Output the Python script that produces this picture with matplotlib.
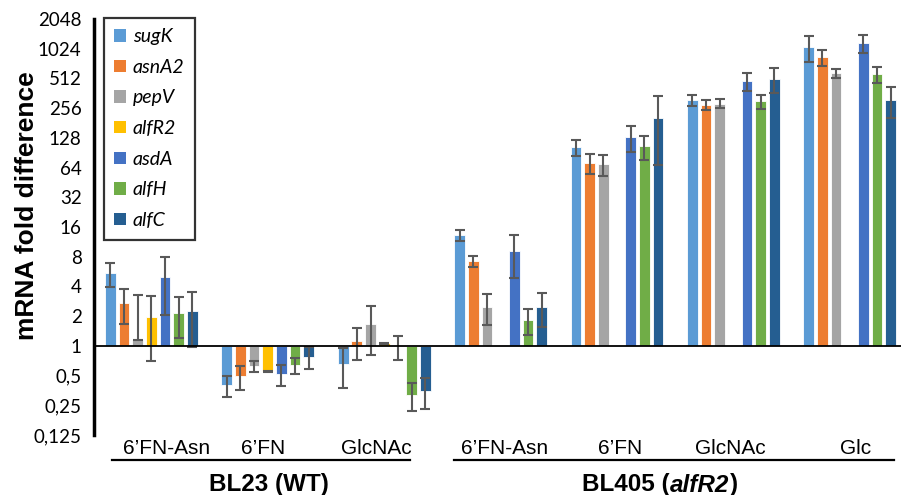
import numpy as np
import matplotlib
matplotlib.use("Agg")
import matplotlib.pyplot as plt
from matplotlib.patches import Patch
from matplotlib.transforms import blended_transform_factory

# ---- data ----
categories = ["6\u2019FN-Asn", "6\u2019FN", "GlcNAc", "6\u2019FN-Asn", "6\u2019FN", "GlcNAc", "Glc"]
genes = ["sugK", "asnA2", "pepV", "alfR2", "asdA", "alfH", "alfC"]
nan = np.nan
sugK = [5.42, 0.40, 0.66, 13.3, 103, 307, 1058]
asnA2 = [2.73, 0.49, 1.11, 7.2, 71.5, 277, 838]
pepV = [1.15, 0.62, 1.66, 2.47, 69, 284, 576]
alfR2 = [1.96, 0.55, 1.06, nan, nan, nan, nan]
asdA = [4.97, 0.52, 0.99, 9.06, 131, 485, 1168]
alfH = [2.15, 0.64, 0.32, 1.83, 105, 302, 564]
alfC = [2.25, 0.78, 0.35, 2.48, 203, 505, 309]

sugK_err = [1.45, 0.10, 0.29, 1.7, 20, 38, 310]
asnA2_err = [1.06, 0.135, 0.39, 0.85, 16, 33, 158]
pepV_err = [2.1, 0.075, 0.86, 0.85, 16, 30, 63]
alfR2_err = [1.25, 0.005, 0.01, nan, nan, nan, nan]
asdA_err = [2.9, 0.125, 0.27, 4.2, 38, 100, 240]
alfH_err = [0.95, 0.12, 0.10, 0.53, 28, 49, 108]
alfC_err = [1.28, 0.20, 0.12, 0.94, 135, 143, 107]

ytick_vals = [0.125, 0.25, 0.5, 1, 2, 4, 8, 16, 32, 64, 128, 256, 512, 1024, 2048]
ytick_labels = ["0,125", "0,25", "0,5", "1", "2", "4", "8", "16", "32", "64", "128", "256", "512", "1024", "2048"]

values = [sugK, asnA2, pepV, alfR2, asdA, alfH, alfC]
errors = [sugK_err, asnA2_err, pepV_err, alfR2_err, asdA_err, alfH_err, alfC_err]
colors = ["#5B9BD5", "#ED7D31", "#A5A5A5", "#FFC000", "#4472C4", "#70AD47", "#255E91"]

W, H = 901, 495
fig = plt.figure(figsize=(W / 100, H / 100), dpi=100)
ax = fig.add_axes([94 / W, 1 - 435 / H, (W - 94) / W, (435 - 19) / H])

x = np.arange(len(categories))
slot = 0.1175
bw = 0.092
for i, (vals, errs, c) in enumerate(zip(values, errors, colors)):
    v = np.array(vals, dtype=float)
    e = np.array(errs, dtype=float)
    xi = x + (i - 3) * slot
    ax.bar(xi, v - 1, bottom=1, width=bw, color=c, edgecolor="white", linewidth=0.6, zorder=2)
    lo = np.where(v - e > 0, e, 0.0)
    ax.errorbar(xi, v, yerr=[lo, e], fmt="none", ecolor="#595959", elinewidth=1.5,
                capsize=3.5, capthick=1.5, zorder=3)

ax.set_yscale("log", base=2)
ax.set_ylim(0.125, 2048)
ax.set_xlim(-0.493, 6.44)
ax.set_yticks(ytick_vals)
ax.set_yticklabels(ytick_labels, fontfamily="Lato", fontsize=13.5)
ax.minorticks_off()
ax.tick_params(axis="y", length=0, pad=9)
label_shift = [0.13, -0.04, -0.07, 0.03, 0.03, -0.03, 0.05]
ax.set_xticks(x + np.array(label_shift))
ax.set_xticklabels(categories, fontfamily="Liberation Sans", fontsize=15)
ax.tick_params(axis="x", length=0, pad=3)

for s in ["top", "right", "bottom"]:
    ax.spines[s].set_visible(False)
ax.spines["left"].set_linewidth(2.5)
ax.axhline(1, color="black", lw=1.3, zorder=4)

# strain underlines and labels
tr = blended_transform_factory(ax.transData, fig.transFigure)
y_line = 1 - 459.5 / H
ax.plot([-0.34, 2.22], [y_line, y_line], color="black", lw=1.6, transform=tr, clip_on=False)
ax.plot([2.597, 6.38], [y_line, y_line], color="black", lw=1.6, transform=tr, clip_on=False)
y_lab = 1 - 485 / H
fkw = dict(fontsize=17.5, fontweight="bold", fontfamily="Liberation Sans", va="center")
fig.text(1.01, y_lab, "BL23 (WT)", transform=tr, ha="center", **fkw)

# BL405 (alfR2) with italic gene name, built from three pieces
renderer = fig.canvas.get_renderer()
pieces = [("BL405 (", "normal"), ("alfR2", "italic"), (")", "normal")]
widths = []
for txt, st in pieces:
    t = fig.text(0, 0, txt, style=st, **fkw)
    widths.append(t.get_window_extent(renderer).width)
    t.remove()
total = sum(widths)
cx = ax.transData.transform((4.37, 1))[0]
xstart = cx - total / 2
for (txt, st), w in zip(pieces, widths):
    fig.text(xstart / W, y_lab, txt, style=st, ha="left", **fkw)
    xstart += w

# y label
fig.text(27 / W, 1 - 206 / H, "mRNA fold difference", rotation=90, ha="center", va="center",
         fontsize=19, fontweight="bold", fontfamily="Liberation Sans")

# legend
handles = [Patch(facecolor=c, edgecolor="none", label=g) for g, c in zip(genes, colors)]
leg = fig.legend(handles=handles, loc="upper left", bbox_to_anchor=(103.5 / W, 1 - 17.5 / H),
                 prop={"family": "Lato", "style": "italic", "size": 14},
                 handlelength=0.6, handleheight=0.6, handletextpad=0.35, labelspacing=0.7,
                 borderpad=0.55, fancybox=False, frameon=True, borderaxespad=0)
leg.get_frame().set_edgecolor("black")
leg.get_frame().set_linewidth(1.6)

fig.savefig("out.png", dpi=100)
